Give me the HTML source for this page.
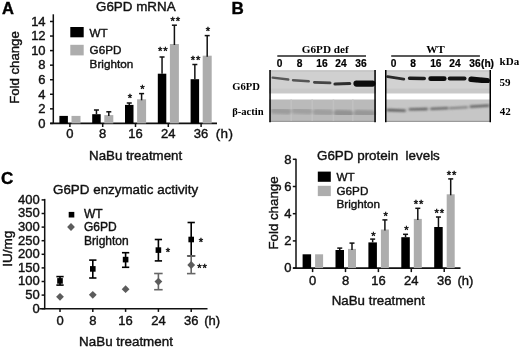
<!DOCTYPE html>
<html><head><meta charset="utf-8"><style>
html,body{margin:0;padding:0;background:#fff;}
body{width:520px;height:348px;overflow:hidden;}
svg{display:block;will-change:transform;filter:blur(0.4px);}
</style></head><body>
<svg width="520" height="348" viewBox="0 0 520 348">
<rect width="520" height="348" fill="#fff"/>
<text x="1.9" y="14.0" font-size="16.5" text-anchor="start" font-weight="bold" font-family='"Liberation Sans", sans-serif' fill="#000" stroke="#000" stroke-width="0.4">A</text>
<text x="96.0" y="11.0" font-size="13.4" text-anchor="start" font-weight="normal" font-family='"Liberation Sans", sans-serif' fill="#111" stroke="#111" stroke-width="0.4">G6PD mRNA</text>
<line x1="53.30" y1="14.30" x2="53.30" y2="124.00" stroke="#111" stroke-width="1.5"/>
<line x1="50.00" y1="123.40" x2="53.30" y2="123.40" stroke="#111" stroke-width="1.5"/>
<text x="45.6" y="127.7" font-size="13" text-anchor="end" font-weight="normal" font-family='"Liberation Sans", sans-serif' fill="#111" stroke="#111" stroke-width="0.4">0</text>
<line x1="50.00" y1="108.84" x2="53.30" y2="108.84" stroke="#111" stroke-width="1.5"/>
<text x="45.6" y="113.14" font-size="13" text-anchor="end" font-weight="normal" font-family='"Liberation Sans", sans-serif' fill="#111" stroke="#111" stroke-width="0.4">2</text>
<line x1="50.00" y1="94.28" x2="53.30" y2="94.28" stroke="#111" stroke-width="1.5"/>
<text x="45.6" y="98.58" font-size="13" text-anchor="end" font-weight="normal" font-family='"Liberation Sans", sans-serif' fill="#111" stroke="#111" stroke-width="0.4">4</text>
<line x1="50.00" y1="79.72" x2="53.30" y2="79.72" stroke="#111" stroke-width="1.5"/>
<text x="45.6" y="84.02" font-size="13" text-anchor="end" font-weight="normal" font-family='"Liberation Sans", sans-serif' fill="#111" stroke="#111" stroke-width="0.4">6</text>
<line x1="50.00" y1="65.16" x2="53.30" y2="65.16" stroke="#111" stroke-width="1.5"/>
<text x="45.6" y="69.46" font-size="13" text-anchor="end" font-weight="normal" font-family='"Liberation Sans", sans-serif' fill="#111" stroke="#111" stroke-width="0.4">8</text>
<line x1="50.00" y1="50.60" x2="53.30" y2="50.60" stroke="#111" stroke-width="1.5"/>
<text x="45.6" y="54.900000000000006" font-size="13" text-anchor="end" font-weight="normal" font-family='"Liberation Sans", sans-serif' fill="#111" stroke="#111" stroke-width="0.4">10</text>
<line x1="50.00" y1="36.04" x2="53.30" y2="36.04" stroke="#111" stroke-width="1.5"/>
<text x="45.6" y="40.34" font-size="13" text-anchor="end" font-weight="normal" font-family='"Liberation Sans", sans-serif' fill="#111" stroke="#111" stroke-width="0.4">12</text>
<line x1="50.00" y1="21.48" x2="53.30" y2="21.48" stroke="#111" stroke-width="1.5"/>
<text x="45.6" y="25.780000000000005" font-size="13" text-anchor="end" font-weight="normal" font-family='"Liberation Sans", sans-serif' fill="#111" stroke="#111" stroke-width="0.4">14</text>
<line x1="50.30" y1="123.40" x2="217.00" y2="123.40" stroke="#111" stroke-width="1.7"/>
<line x1="69.90" y1="123.40" x2="69.90" y2="127.00" stroke="#111" stroke-width="1.5"/>
<text x="69.9" y="138.3" font-size="13" text-anchor="middle" font-weight="normal" font-family='"Liberation Sans", sans-serif' fill="#111" stroke="#111" stroke-width="0.4">0</text>
<line x1="102.70" y1="123.40" x2="102.70" y2="127.00" stroke="#111" stroke-width="1.5"/>
<text x="102.7" y="138.3" font-size="13" text-anchor="middle" font-weight="normal" font-family='"Liberation Sans", sans-serif' fill="#111" stroke="#111" stroke-width="0.4">8</text>
<line x1="135.50" y1="123.40" x2="135.50" y2="127.00" stroke="#111" stroke-width="1.5"/>
<text x="135.5" y="138.3" font-size="13" text-anchor="middle" font-weight="normal" font-family='"Liberation Sans", sans-serif' fill="#111" stroke="#111" stroke-width="0.4">16</text>
<line x1="168.30" y1="123.40" x2="168.30" y2="127.00" stroke="#111" stroke-width="1.5"/>
<text x="168.3" y="138.3" font-size="13" text-anchor="middle" font-weight="normal" font-family='"Liberation Sans", sans-serif' fill="#111" stroke="#111" stroke-width="0.4">24</text>
<line x1="201.10" y1="123.40" x2="201.10" y2="127.00" stroke="#111" stroke-width="1.5"/>
<text x="201.1" y="138.3" font-size="13" text-anchor="middle" font-weight="normal" font-family='"Liberation Sans", sans-serif' fill="#111" stroke="#111" stroke-width="0.4">36</text>
<text x="215.8" y="138.3" font-size="13.5" text-anchor="start" font-weight="normal" font-family='"Liberation Sans", sans-serif' fill="#111" stroke="#111" stroke-width="0.4" letter-spacing="0.3">(h)</text>
<text x="135.6" y="160.0" font-size="13.3" text-anchor="middle" font-weight="normal" font-family='"Liberation Sans", sans-serif' fill="#111" stroke="#111" stroke-width="0.4">NaBu treatment</text>
<text x="0" y="0" font-size="13.2" text-anchor="middle" font-family='"Liberation Sans", sans-serif' fill="#111" stroke="#111" stroke-width="0.4" transform="translate(19.3,67.5) rotate(-90)">Fold change</text>
<rect x="70.30" y="27.00" width="13.40" height="10.30" fill="#000"/>
<rect x="70.30" y="44.80" width="13.40" height="10.60" fill="#adadad"/>
<text x="89.6" y="36.5" font-size="11.7" text-anchor="start" font-weight="normal" font-family='"Liberation Sans", sans-serif' fill="#111" stroke="#111" stroke-width="0.4">WT</text>
<text x="89.6" y="54.2" font-size="11.7" text-anchor="start" font-weight="normal" font-family='"Liberation Sans", sans-serif' fill="#111" stroke="#111" stroke-width="0.4">G6PD</text>
<text x="89.6" y="68.0" font-size="11.7" text-anchor="start" font-weight="normal" font-family='"Liberation Sans", sans-serif' fill="#111" stroke="#111" stroke-width="0.4">Brighton</text>
<rect x="59.40" y="115.90" width="8.50" height="7.50" fill="#000"/>
<rect x="71.50" y="115.90" width="9.00" height="7.50" fill="#adadad"/>
<rect x="92.20" y="114.20" width="8.50" height="9.20" fill="#000"/>
<line x1="96.45" y1="110.00" x2="96.45" y2="114.20" stroke="#111" stroke-width="1.5"/>
<line x1="93.95" y1="110.00" x2="98.95" y2="110.00" stroke="#111" stroke-width="1.5"/>
<rect x="104.30" y="115.10" width="9.00" height="8.30" fill="#adadad"/>
<line x1="108.80" y1="111.80" x2="108.80" y2="116.10" stroke="#111" stroke-width="1.5"/>
<line x1="106.30" y1="111.80" x2="111.30" y2="111.80" stroke="#111" stroke-width="1.5"/>
<rect x="125.00" y="104.90" width="8.50" height="18.50" fill="#000"/>
<line x1="129.25" y1="103.00" x2="129.25" y2="104.90" stroke="#111" stroke-width="1.5"/>
<line x1="126.75" y1="103.00" x2="131.75" y2="103.00" stroke="#111" stroke-width="1.5"/>
<text x="130.05" y="101.5" font-size="11.2" text-anchor="middle" font-weight="normal" font-family='"Liberation Sans", sans-serif' fill="#111" stroke="#111" stroke-width="0.45" letter-spacing="0">*</text>
<rect x="137.10" y="99.30" width="9.00" height="24.10" fill="#adadad"/>
<line x1="141.60" y1="93.60" x2="141.60" y2="100.30" stroke="#111" stroke-width="1.5"/>
<line x1="139.10" y1="93.60" x2="144.10" y2="93.60" stroke="#111" stroke-width="1.5"/>
<text x="142.4" y="92.8" font-size="11.2" text-anchor="middle" font-weight="normal" font-family='"Liberation Sans", sans-serif' fill="#111" stroke="#111" stroke-width="0.45" letter-spacing="0">*</text>
<rect x="157.80" y="73.70" width="8.50" height="49.70" fill="#000"/>
<line x1="162.05" y1="57.00" x2="162.05" y2="73.70" stroke="#111" stroke-width="1.5"/>
<line x1="159.55" y1="57.00" x2="164.55" y2="57.00" stroke="#111" stroke-width="1.5"/>
<text x="163.3" y="55.4" font-size="11.2" text-anchor="middle" font-weight="normal" font-family='"Liberation Sans", sans-serif' fill="#111" stroke="#111" stroke-width="0.45" letter-spacing="0.9">**</text>
<rect x="169.90" y="44.00" width="9.00" height="79.40" fill="#adadad"/>
<line x1="174.40" y1="25.20" x2="174.40" y2="45.00" stroke="#111" stroke-width="1.5"/>
<line x1="171.90" y1="25.20" x2="176.90" y2="25.20" stroke="#111" stroke-width="1.5"/>
<text x="175.65" y="24.6" font-size="11.2" text-anchor="middle" font-weight="normal" font-family='"Liberation Sans", sans-serif' fill="#111" stroke="#111" stroke-width="0.45" letter-spacing="0.9">**</text>
<rect x="190.60" y="79.20" width="8.50" height="44.20" fill="#000"/>
<line x1="194.85" y1="64.50" x2="194.85" y2="79.20" stroke="#111" stroke-width="1.5"/>
<line x1="192.35" y1="64.50" x2="197.35" y2="64.50" stroke="#111" stroke-width="1.5"/>
<text x="196.1" y="63.6" font-size="11.2" text-anchor="middle" font-weight="normal" font-family='"Liberation Sans", sans-serif' fill="#111" stroke="#111" stroke-width="0.45" letter-spacing="0.9">**</text>
<rect x="202.70" y="55.70" width="9.00" height="67.70" fill="#adadad"/>
<line x1="207.20" y1="35.60" x2="207.20" y2="56.70" stroke="#111" stroke-width="1.5"/>
<line x1="204.70" y1="35.60" x2="209.70" y2="35.60" stroke="#111" stroke-width="1.5"/>
<text x="208.0" y="34.9" font-size="11.2" text-anchor="middle" font-weight="normal" font-family='"Liberation Sans", sans-serif' fill="#111" stroke="#111" stroke-width="0.45" letter-spacing="0">*</text>
<text x="231.6" y="13.5" font-size="17" text-anchor="start" font-weight="bold" font-family='"Liberation Sans", sans-serif' fill="#000" stroke="#000" stroke-width="0.4">B</text>
<text x="325.3" y="53.3" font-size="11.2" text-anchor="middle" font-weight="bold" font-family='"Liberation Serif", serif' fill="#000" >G6PD def</text>
<text x="435.5" y="53.2" font-size="11.2" text-anchor="middle" font-weight="bold" font-family='"Liberation Serif", serif' fill="#000" >WT</text>
<line x1="277.30" y1="55.90" x2="366.00" y2="55.90" stroke="#222" stroke-width="1.5"/>
<line x1="391.20" y1="55.90" x2="479.90" y2="55.90" stroke="#222" stroke-width="1.5"/>
<text x="0" y="0" transform="translate(279.5,67.1) scale(1.0,1.12)" font-size="10.2" text-anchor="middle" font-weight="bold" font-family='"Liberation Sans", sans-serif' fill="#000" stroke="#000" stroke-width="0.2">0</text>
<text x="0" y="0" transform="translate(299.5,67.1) scale(1.0,1.12)" font-size="10.2" text-anchor="middle" font-weight="bold" font-family='"Liberation Sans", sans-serif' fill="#000" stroke="#000" stroke-width="0.2">8</text>
<text x="0" y="0" transform="translate(321.9,67.1) scale(1.0,1.12)" font-size="10.2" text-anchor="middle" font-weight="bold" font-family='"Liberation Sans", sans-serif' fill="#000" stroke="#000" stroke-width="0.2">16</text>
<text x="0" y="0" transform="translate(340.9,67.1) scale(1.0,1.12)" font-size="10.2" text-anchor="middle" font-weight="bold" font-family='"Liberation Sans", sans-serif' fill="#000" stroke="#000" stroke-width="0.2">24</text>
<text x="0" y="0" transform="translate(360.9,67.1) scale(1.0,1.12)" font-size="10.2" text-anchor="middle" font-weight="bold" font-family='"Liberation Sans", sans-serif' fill="#000" stroke="#000" stroke-width="0.2">36</text>
<text x="0" y="0" transform="translate(393.5,67.1) scale(1.0,1.12)" font-size="10.2" text-anchor="middle" font-weight="bold" font-family='"Liberation Sans", sans-serif' fill="#000" stroke="#000" stroke-width="0.2">0</text>
<text x="0" y="0" transform="translate(413.2,67.1) scale(1.0,1.12)" font-size="10.2" text-anchor="middle" font-weight="bold" font-family='"Liberation Sans", sans-serif' fill="#000" stroke="#000" stroke-width="0.2">8</text>
<text x="0" y="0" transform="translate(435.8,67.1) scale(1.0,1.12)" font-size="10.2" text-anchor="middle" font-weight="bold" font-family='"Liberation Sans", sans-serif' fill="#000" stroke="#000" stroke-width="0.2">16</text>
<text x="0" y="0" transform="translate(454.9,67.1) scale(1.0,1.12)" font-size="10.2" text-anchor="middle" font-weight="bold" font-family='"Liberation Sans", sans-serif' fill="#000" stroke="#000" stroke-width="0.2">24</text>
<text x="0" y="0" transform="translate(475.0,67.1) scale(1.0,1.12)" font-size="10.2" text-anchor="middle" font-weight="bold" font-family='"Liberation Sans", sans-serif' fill="#000" stroke="#000" stroke-width="0.2">36</text>
<text x="0" y="0" transform="translate(481.0,67.1) scale(1.0,1.12)" font-size="10.2" text-anchor="start" font-weight="bold" font-family='"Liberation Sans", sans-serif' fill="#000" stroke="#000" stroke-width="0.2">(h)</text>
<text x="499.6" y="64.6" font-size="11" text-anchor="start" font-weight="bold" font-family='"Liberation Serif", serif' fill="#000" >kDa</text>
<text x="499.6" y="86.4" font-size="11" text-anchor="start" font-weight="bold" font-family='"Liberation Serif", serif' fill="#000" >59</text>
<text x="499.8" y="114.8" font-size="11" text-anchor="start" font-weight="bold" font-family='"Liberation Serif", serif' fill="#000" >42</text>
<text x="232.2" y="89.6" font-size="10.6" text-anchor="start" font-weight="bold" font-family='"Liberation Serif", serif' fill="#000" >G6PD</text>
<text x="232.2" y="115.0" font-size="10.6" text-anchor="start" font-weight="bold" font-family='"Liberation Serif", serif' fill="#000" >&#946;-actin</text>
<defs><filter id="bl" x="-20%" y="-50%" width="140%" height="200%"><feGaussianBlur stdDeviation="0.6"/></filter><filter id="bl2" x="-20%" y="-50%" width="140%" height="200%"><feGaussianBlur stdDeviation="1.0"/></filter></defs>
<rect x="269.30" y="70.30" width="106.50" height="23.00" fill="#d0d0d0"/>
<rect x="269.30" y="70.30" width="106.50" height="1.40" fill="#c4c4c4"/>
<rect x="269.30" y="88.50" width="106.50" height="4.80" fill="#c9c9c9"/>
<rect x="269.30" y="99.50" width="106.50" height="22.50" fill="#bababa"/>
<rect x="269.30" y="120.80" width="106.50" height="1.20" fill="#9a9a9a"/>
<rect x="290.40" y="99.50" width="1.60" height="21.30" fill="#c1c1c1"/>
<rect x="311.40" y="99.50" width="1.60" height="21.30" fill="#c1c1c1"/>
<rect x="332.60" y="99.50" width="1.60" height="21.30" fill="#c1c1c1"/>
<rect x="352.00" y="99.50" width="1.60" height="21.30" fill="#c1c1c1"/>
<g filter="url(#bl)">
<line x1="272.65" y1="77.70" x2="288.35" y2="79.50" stroke="#585858" stroke-width="2.3" stroke-linecap="round"/>
<line x1="293.05" y1="80.20" x2="308.75" y2="81.30" stroke="#555555" stroke-width="2.5" stroke-linecap="round"/>
<line x1="314.40" y1="82.30" x2="330.10" y2="82.90" stroke="#444444" stroke-width="2.8" stroke-linecap="round"/>
<line x1="335.00" y1="84.00" x2="349.70" y2="83.50" stroke="#2e2e2e" stroke-width="3.2" stroke-linecap="round"/>
<line x1="356.50" y1="83.60" x2="372.40" y2="83.60" stroke="#0e0e0e" stroke-width="6.2" stroke-linecap="round"/>
</g><g filter="url(#bl2)">
<line x1="274.00" y1="110.80" x2="288.00" y2="111.40" stroke="#9c9c9c" stroke-width="6" stroke-linecap="round"/>
<line x1="295.00" y1="110.80" x2="309.00" y2="111.40" stroke="#a0a0a0" stroke-width="6" stroke-linecap="round"/>
<line x1="316.00" y1="112.00" x2="330.00" y2="112.50" stroke="#9f9f9f" stroke-width="6" stroke-linecap="round"/>
<line x1="337.25" y1="113.00" x2="349.75" y2="113.50" stroke="#939393" stroke-width="6.5" stroke-linecap="round"/>
<line x1="357.25" y1="113.00" x2="371.75" y2="113.50" stroke="#989898" stroke-width="6.5" stroke-linecap="round"/>
</g>
<line x1="270.05" y1="70.00" x2="270.05" y2="122.20" stroke="#000" stroke-width="1.5"/>
<line x1="375.05" y1="70.00" x2="375.05" y2="122.20" stroke="#000" stroke-width="1.5"/>
<rect x="385.00" y="70.30" width="106.00" height="23.00" fill="#d2d2d2"/>
<rect x="385.00" y="70.30" width="106.00" height="1.40" fill="#c4c4c4"/>
<rect x="385.00" y="88.50" width="106.00" height="4.80" fill="#c9c9c9"/>
<rect x="385.00" y="99.50" width="106.00" height="22.50" fill="#c6c6c6"/>
<rect x="385.00" y="120.80" width="106.00" height="1.20" fill="#9a9a9a"/>
<g filter="url(#bl)">
<line x1="387.60" y1="76.70" x2="403.80" y2="79.10" stroke="#2a2a2a" stroke-width="2.8" stroke-linecap="round"/>
<line x1="409.60" y1="78.30" x2="424.20" y2="78.50" stroke="#1a1a1a" stroke-width="3.6" stroke-linecap="round"/>
<line x1="430.70" y1="78.70" x2="444.20" y2="78.70" stroke="#0c0c0c" stroke-width="4.8" stroke-linecap="round"/>
<line x1="449.70" y1="78.50" x2="464.50" y2="78.50" stroke="#141414" stroke-width="4.0" stroke-linecap="round"/>
<line x1="471.10" y1="79.20" x2="487.20" y2="80.80" stroke="#0c0c0c" stroke-width="5.6" stroke-linecap="round"/>
</g><g filter="url(#bl2)">
<line x1="387.70" y1="110.00" x2="404.80" y2="110.60" stroke="#555555" stroke-width="2.4" stroke-linecap="round"/>
<line x1="409.65" y1="109.40" x2="426.85" y2="109.00" stroke="#5e5e5e" stroke-width="2.3" stroke-linecap="round"/>
<line x1="431.15" y1="108.80" x2="447.35" y2="108.20" stroke="#626262" stroke-width="2.3" stroke-linecap="round"/>
<line x1="450.05" y1="108.30" x2="466.95" y2="107.30" stroke="#7a7a7a" stroke-width="2.1" stroke-linecap="round"/>
<line x1="470.70" y1="106.60" x2="488.30" y2="105.60" stroke="#5c5c5c" stroke-width="2.4" stroke-linecap="round"/>
</g>
<line x1="385.75" y1="70.00" x2="385.75" y2="122.20" stroke="#000" stroke-width="1.5"/>
<line x1="490.25" y1="70.00" x2="490.25" y2="122.20" stroke="#000" stroke-width="1.5"/>
<text x="317.0" y="160.0" font-size="13.4" text-anchor="start" font-weight="normal" font-family='"Liberation Sans", sans-serif' fill="#111" stroke="#111" stroke-width="0.4">G6PD protein&#160; levels</text>
<line x1="296.00" y1="158.70" x2="296.00" y2="268.70" stroke="#111" stroke-width="1.5"/>
<line x1="292.80" y1="268.10" x2="296.00" y2="268.10" stroke="#111" stroke-width="1.5"/>
<text x="291.6" y="272.3" font-size="13" text-anchor="end" font-weight="normal" font-family='"Liberation Sans", sans-serif' fill="#111" stroke="#111" stroke-width="0.4">0</text>
<line x1="292.80" y1="240.90" x2="296.00" y2="240.90" stroke="#111" stroke-width="1.5"/>
<text x="291.6" y="245.10000000000002" font-size="13" text-anchor="end" font-weight="normal" font-family='"Liberation Sans", sans-serif' fill="#111" stroke="#111" stroke-width="0.4">2</text>
<line x1="292.80" y1="213.70" x2="296.00" y2="213.70" stroke="#111" stroke-width="1.5"/>
<text x="291.6" y="217.9" font-size="13" text-anchor="end" font-weight="normal" font-family='"Liberation Sans", sans-serif' fill="#111" stroke="#111" stroke-width="0.4">4</text>
<line x1="292.80" y1="186.50" x2="296.00" y2="186.50" stroke="#111" stroke-width="1.5"/>
<text x="291.6" y="190.70000000000002" font-size="13" text-anchor="end" font-weight="normal" font-family='"Liberation Sans", sans-serif' fill="#111" stroke="#111" stroke-width="0.4">6</text>
<line x1="292.80" y1="159.30" x2="296.00" y2="159.30" stroke="#111" stroke-width="1.5"/>
<text x="291.6" y="163.5" font-size="13" text-anchor="end" font-weight="normal" font-family='"Liberation Sans", sans-serif' fill="#111" stroke="#111" stroke-width="0.4">8</text>
<line x1="293.10" y1="268.10" x2="460.50" y2="268.10" stroke="#111" stroke-width="1.7"/>
<line x1="312.60" y1="268.10" x2="312.60" y2="272.10" stroke="#111" stroke-width="1.5"/>
<text x="312.6" y="285.3" font-size="13" text-anchor="middle" font-weight="normal" font-family='"Liberation Sans", sans-serif' fill="#111" stroke="#111" stroke-width="0.4">0</text>
<line x1="345.50" y1="268.10" x2="345.50" y2="272.10" stroke="#111" stroke-width="1.5"/>
<text x="345.5" y="285.3" font-size="13" text-anchor="middle" font-weight="normal" font-family='"Liberation Sans", sans-serif' fill="#111" stroke="#111" stroke-width="0.4">8</text>
<line x1="378.40" y1="268.10" x2="378.40" y2="272.10" stroke="#111" stroke-width="1.5"/>
<text x="378.40000000000003" y="285.3" font-size="13" text-anchor="middle" font-weight="normal" font-family='"Liberation Sans", sans-serif' fill="#111" stroke="#111" stroke-width="0.4">16</text>
<line x1="411.30" y1="268.10" x2="411.30" y2="272.10" stroke="#111" stroke-width="1.5"/>
<text x="411.3" y="285.3" font-size="13" text-anchor="middle" font-weight="normal" font-family='"Liberation Sans", sans-serif' fill="#111" stroke="#111" stroke-width="0.4">24</text>
<line x1="444.20" y1="268.10" x2="444.20" y2="272.10" stroke="#111" stroke-width="1.5"/>
<text x="444.20000000000005" y="285.3" font-size="13" text-anchor="middle" font-weight="normal" font-family='"Liberation Sans", sans-serif' fill="#111" stroke="#111" stroke-width="0.4">36</text>
<text x="457.4" y="285.3" font-size="13" text-anchor="start" font-weight="normal" font-family='"Liberation Sans", sans-serif' fill="#111" stroke="#111" stroke-width="0.4">(h)</text>
<text x="378.3" y="304.8" font-size="13.3" text-anchor="middle" font-weight="normal" font-family='"Liberation Sans", sans-serif' fill="#111" stroke="#111" stroke-width="0.4">NaBu treatment</text>
<text x="0" y="0" font-size="13.3" text-anchor="middle" font-family='"Liberation Sans", sans-serif' fill="#111" stroke="#111" stroke-width="0.4" transform="translate(278.2,213) rotate(-90)">Fold change</text>
<rect x="317.80" y="171.60" width="13.00" height="10.20" fill="#000"/>
<rect x="317.80" y="185.80" width="13.00" height="10.30" fill="#adadad"/>
<text x="336.5" y="180.7" font-size="11.7" text-anchor="start" font-weight="normal" font-family='"Liberation Sans", sans-serif' fill="#111" stroke="#111" stroke-width="0.4">WT</text>
<text x="336.5" y="194.9" font-size="11.7" text-anchor="start" font-weight="normal" font-family='"Liberation Sans", sans-serif' fill="#111" stroke="#111" stroke-width="0.4">G6PD</text>
<text x="336.5" y="208.0" font-size="11.7" text-anchor="start" font-weight="normal" font-family='"Liberation Sans", sans-serif' fill="#111" stroke="#111" stroke-width="0.4">Brighton</text>
<rect x="302.60" y="254.30" width="8.50" height="13.80" fill="#000"/>
<rect x="315.10" y="254.30" width="8.00" height="13.80" fill="#adadad"/>
<rect x="335.50" y="250.00" width="8.50" height="18.10" fill="#000"/>
<line x1="339.75" y1="248.10" x2="339.75" y2="250.00" stroke="#111" stroke-width="1.5"/>
<line x1="337.25" y1="248.10" x2="342.25" y2="248.10" stroke="#111" stroke-width="1.5"/>
<rect x="348.00" y="248.90" width="8.00" height="19.20" fill="#adadad"/>
<line x1="352.00" y1="243.10" x2="352.00" y2="249.90" stroke="#111" stroke-width="1.5"/>
<line x1="349.50" y1="243.10" x2="354.50" y2="243.10" stroke="#111" stroke-width="1.5"/>
<rect x="368.40" y="242.40" width="8.50" height="25.70" fill="#000"/>
<line x1="372.65" y1="239.10" x2="372.65" y2="242.40" stroke="#111" stroke-width="1.5"/>
<line x1="370.15" y1="239.10" x2="375.15" y2="239.10" stroke="#111" stroke-width="1.5"/>
<text x="373.45000000000005" y="240.4" font-size="11.2" text-anchor="middle" font-weight="normal" font-family='"Liberation Sans", sans-serif' fill="#111" stroke="#111" stroke-width="0.45" letter-spacing="0">*</text>
<rect x="380.90" y="229.50" width="8.00" height="38.60" fill="#adadad"/>
<line x1="384.90" y1="219.90" x2="384.90" y2="230.50" stroke="#111" stroke-width="1.5"/>
<line x1="382.40" y1="219.90" x2="387.40" y2="219.90" stroke="#111" stroke-width="1.5"/>
<text x="385.70000000000005" y="219.79999999999998" font-size="11.2" text-anchor="middle" font-weight="normal" font-family='"Liberation Sans", sans-serif' fill="#111" stroke="#111" stroke-width="0.45" letter-spacing="0">*</text>
<rect x="401.30" y="237.20" width="8.50" height="30.90" fill="#000"/>
<line x1="405.55" y1="234.30" x2="405.55" y2="237.20" stroke="#111" stroke-width="1.5"/>
<line x1="403.05" y1="234.30" x2="408.05" y2="234.30" stroke="#111" stroke-width="1.5"/>
<text x="406.35" y="233.6" font-size="11.2" text-anchor="middle" font-weight="normal" font-family='"Liberation Sans", sans-serif' fill="#111" stroke="#111" stroke-width="0.45" letter-spacing="0">*</text>
<rect x="413.80" y="218.90" width="8.00" height="49.20" fill="#adadad"/>
<line x1="417.80" y1="208.30" x2="417.80" y2="219.90" stroke="#111" stroke-width="1.5"/>
<line x1="415.30" y1="208.30" x2="420.30" y2="208.30" stroke="#111" stroke-width="1.5"/>
<text x="419.05" y="208.2" font-size="11.2" text-anchor="middle" font-weight="normal" font-family='"Liberation Sans", sans-serif' fill="#111" stroke="#111" stroke-width="0.45" letter-spacing="0.9">**</text>
<rect x="434.20" y="227.00" width="8.50" height="41.10" fill="#000"/>
<line x1="438.45" y1="217.00" x2="438.45" y2="227.00" stroke="#111" stroke-width="1.5"/>
<line x1="435.95" y1="217.00" x2="440.95" y2="217.00" stroke="#111" stroke-width="1.5"/>
<text x="439.70000000000005" y="217.29999999999998" font-size="11.2" text-anchor="middle" font-weight="normal" font-family='"Liberation Sans", sans-serif' fill="#111" stroke="#111" stroke-width="0.45" letter-spacing="0.9">**</text>
<rect x="446.70" y="194.30" width="8.00" height="73.80" fill="#adadad"/>
<line x1="450.70" y1="178.90" x2="450.70" y2="195.30" stroke="#111" stroke-width="1.5"/>
<line x1="448.20" y1="178.90" x2="453.20" y2="178.90" stroke="#111" stroke-width="1.5"/>
<text x="451.95000000000005" y="179.2" font-size="11.2" text-anchor="middle" font-weight="normal" font-family='"Liberation Sans", sans-serif' fill="#111" stroke="#111" stroke-width="0.45" letter-spacing="0.9">**</text>
<text x="1.0" y="183.8" font-size="17" text-anchor="start" font-weight="bold" font-family='"Liberation Sans", sans-serif' fill="#000" stroke="#000" stroke-width="0.4">C</text>
<text x="53.0" y="194.2" font-size="13.4" text-anchor="start" font-weight="normal" font-family='"Liberation Sans", sans-serif' fill="#111" stroke="#111" stroke-width="0.4">G6PD enzymatic activity</text>
<line x1="44.70" y1="198.90" x2="44.70" y2="309.30" stroke="#111" stroke-width="1.5"/>
<line x1="41.60" y1="308.70" x2="44.70" y2="308.70" stroke="#111" stroke-width="1.5"/>
<text x="39.8" y="312.5" font-size="13" text-anchor="end" font-weight="normal" font-family='"Liberation Sans", sans-serif' fill="#111" stroke="#111" stroke-width="0.4">0</text>
<line x1="41.60" y1="295.10" x2="44.70" y2="295.10" stroke="#111" stroke-width="1.5"/>
<text x="39.8" y="298.9" font-size="13" text-anchor="end" font-weight="normal" font-family='"Liberation Sans", sans-serif' fill="#111" stroke="#111" stroke-width="0.4">50</text>
<line x1="41.60" y1="281.50" x2="44.70" y2="281.50" stroke="#111" stroke-width="1.5"/>
<text x="39.8" y="285.3" font-size="13" text-anchor="end" font-weight="normal" font-family='"Liberation Sans", sans-serif' fill="#111" stroke="#111" stroke-width="0.4">100</text>
<line x1="41.60" y1="267.90" x2="44.70" y2="267.90" stroke="#111" stroke-width="1.5"/>
<text x="39.8" y="271.7" font-size="13" text-anchor="end" font-weight="normal" font-family='"Liberation Sans", sans-serif' fill="#111" stroke="#111" stroke-width="0.4">150</text>
<line x1="41.60" y1="254.30" x2="44.70" y2="254.30" stroke="#111" stroke-width="1.5"/>
<text x="39.8" y="258.09999999999997" font-size="13" text-anchor="end" font-weight="normal" font-family='"Liberation Sans", sans-serif' fill="#111" stroke="#111" stroke-width="0.4">200</text>
<line x1="41.60" y1="240.70" x2="44.70" y2="240.70" stroke="#111" stroke-width="1.5"/>
<text x="39.8" y="244.5" font-size="13" text-anchor="end" font-weight="normal" font-family='"Liberation Sans", sans-serif' fill="#111" stroke="#111" stroke-width="0.4">250</text>
<line x1="41.60" y1="227.10" x2="44.70" y2="227.10" stroke="#111" stroke-width="1.5"/>
<text x="39.8" y="230.89999999999998" font-size="13" text-anchor="end" font-weight="normal" font-family='"Liberation Sans", sans-serif' fill="#111" stroke="#111" stroke-width="0.4">300</text>
<line x1="41.60" y1="213.50" x2="44.70" y2="213.50" stroke="#111" stroke-width="1.5"/>
<text x="39.8" y="217.3" font-size="13" text-anchor="end" font-weight="normal" font-family='"Liberation Sans", sans-serif' fill="#111" stroke="#111" stroke-width="0.4">350</text>
<line x1="41.60" y1="199.90" x2="44.70" y2="199.90" stroke="#111" stroke-width="1.5"/>
<text x="39.8" y="203.7" font-size="13" text-anchor="end" font-weight="normal" font-family='"Liberation Sans", sans-serif' fill="#111" stroke="#111" stroke-width="0.4">400</text>
<line x1="39.50" y1="308.70" x2="207.50" y2="308.70" stroke="#111" stroke-width="1.6"/>
<line x1="60.00" y1="308.70" x2="60.00" y2="311.90" stroke="#111" stroke-width="1.5"/>
<text x="60.0" y="324.6" font-size="13" text-anchor="middle" font-weight="normal" font-family='"Liberation Sans", sans-serif' fill="#111" stroke="#111" stroke-width="0.4">0</text>
<line x1="92.80" y1="308.70" x2="92.80" y2="311.90" stroke="#111" stroke-width="1.5"/>
<text x="92.8" y="324.6" font-size="13" text-anchor="middle" font-weight="normal" font-family='"Liberation Sans", sans-serif' fill="#111" stroke="#111" stroke-width="0.4">8</text>
<line x1="125.60" y1="308.70" x2="125.60" y2="311.90" stroke="#111" stroke-width="1.5"/>
<text x="125.6" y="324.6" font-size="13" text-anchor="middle" font-weight="normal" font-family='"Liberation Sans", sans-serif' fill="#111" stroke="#111" stroke-width="0.4">16</text>
<line x1="158.40" y1="308.70" x2="158.40" y2="311.90" stroke="#111" stroke-width="1.5"/>
<text x="158.39999999999998" y="324.6" font-size="13" text-anchor="middle" font-weight="normal" font-family='"Liberation Sans", sans-serif' fill="#111" stroke="#111" stroke-width="0.4">24</text>
<line x1="191.20" y1="308.70" x2="191.20" y2="311.90" stroke="#111" stroke-width="1.5"/>
<text x="191.2" y="324.6" font-size="13" text-anchor="middle" font-weight="normal" font-family='"Liberation Sans", sans-serif' fill="#111" stroke="#111" stroke-width="0.4">36</text>
<text x="204.2" y="324.6" font-size="13" text-anchor="start" font-weight="normal" font-family='"Liberation Sans", sans-serif' fill="#111" stroke="#111" stroke-width="0.4">(h)</text>
<text x="126.0" y="346.2" font-size="13.4" text-anchor="middle" font-weight="normal" font-family='"Liberation Sans", sans-serif' fill="#111" stroke="#111" stroke-width="0.4">NaBu treatment</text>
<text x="0" y="0" font-size="13.6" text-anchor="middle" font-family='"Liberation Sans", sans-serif' fill="#111" stroke="#111" stroke-width="0.4" transform="translate(11.6,248.7) rotate(-90)">IU/mg</text>
<rect x="68.70" y="211.90" width="5.60" height="5.60" fill="#000"/>
<path d="M71.0,223.1 L74.9,227.0 L71.0,230.9 L67.1,227.0 Z" fill="#5c5c5c"/>
<text x="84.0" y="217.9" font-size="12" text-anchor="start" font-weight="normal" font-family='"Liberation Sans", sans-serif' fill="#111" stroke="#111" stroke-width="0.4">WT</text>
<text x="84.0" y="231.4" font-size="12" text-anchor="start" font-weight="normal" font-family='"Liberation Sans", sans-serif' fill="#111" stroke="#111" stroke-width="0.4">G6PD</text>
<text x="84.0" y="244.6" font-size="12" text-anchor="start" font-weight="normal" font-family='"Liberation Sans", sans-serif' fill="#111" stroke="#111" stroke-width="0.4">Brighton</text>
<line x1="60.00" y1="276.60" x2="60.00" y2="285.10" stroke="#000" stroke-width="1.6"/>
<line x1="56.35" y1="276.60" x2="63.65" y2="276.60" stroke="#000" stroke-width="1.6"/>
<line x1="56.35" y1="285.10" x2="63.65" y2="285.10" stroke="#000" stroke-width="1.6"/>
<rect x="57.20" y="278.10" width="5.60" height="5.60" fill="#000"/>
<line x1="92.80" y1="260.10" x2="92.80" y2="278.00" stroke="#000" stroke-width="1.6"/>
<line x1="89.15" y1="260.10" x2="96.45" y2="260.10" stroke="#000" stroke-width="1.6"/>
<line x1="89.15" y1="278.00" x2="96.45" y2="278.00" stroke="#000" stroke-width="1.6"/>
<rect x="90.00" y="266.10" width="5.60" height="5.60" fill="#000"/>
<line x1="125.60" y1="252.70" x2="125.60" y2="267.30" stroke="#000" stroke-width="1.6"/>
<line x1="121.95" y1="252.70" x2="129.25" y2="252.70" stroke="#000" stroke-width="1.6"/>
<line x1="121.95" y1="267.30" x2="129.25" y2="267.30" stroke="#000" stroke-width="1.6"/>
<rect x="122.80" y="256.80" width="5.60" height="5.60" fill="#000"/>
<line x1="158.40" y1="239.50" x2="158.40" y2="260.90" stroke="#000" stroke-width="1.6"/>
<line x1="154.75" y1="239.50" x2="162.05" y2="239.50" stroke="#000" stroke-width="1.6"/>
<line x1="154.75" y1="260.90" x2="162.05" y2="260.90" stroke="#000" stroke-width="1.6"/>
<rect x="155.60" y="247.30" width="5.60" height="5.60" fill="#000"/>
<line x1="191.20" y1="222.50" x2="191.20" y2="255.90" stroke="#000" stroke-width="1.6"/>
<line x1="187.55" y1="222.50" x2="194.85" y2="222.50" stroke="#000" stroke-width="1.6"/>
<line x1="187.55" y1="255.90" x2="194.85" y2="255.90" stroke="#000" stroke-width="1.6"/>
<rect x="188.40" y="236.70" width="5.60" height="5.60" fill="#000"/>
<path d="M60.0,292.90000000000003 L63.9,296.8 L60.0,300.7 L56.1,296.8 Z" fill="#5c5c5c"/>
<path d="M92.8,290.90000000000003 L96.7,294.8 L92.8,298.7 L88.89999999999999,294.8 Z" fill="#5c5c5c"/>
<path d="M125.6,285.3 L129.5,289.2 L125.6,293.09999999999997 L121.69999999999999,289.2 Z" fill="#5c5c5c"/>
<line x1="158.40" y1="273.50" x2="158.40" y2="289.70" stroke="#666" stroke-width="1.6"/>
<line x1="154.15" y1="273.50" x2="162.65" y2="273.50" stroke="#666" stroke-width="1.6"/>
<line x1="154.15" y1="289.70" x2="162.65" y2="289.70" stroke="#666" stroke-width="1.6"/>
<path d="M158.39999999999998,277.70000000000005 L162.29999999999998,281.6 L158.39999999999998,285.5 L154.49999999999997,281.6 Z" fill="#5c5c5c"/>
<line x1="191.20" y1="255.90" x2="191.20" y2="273.60" stroke="#666" stroke-width="1.6"/>
<line x1="186.95" y1="255.90" x2="195.45" y2="255.90" stroke="#666" stroke-width="1.6"/>
<line x1="186.95" y1="273.60" x2="195.45" y2="273.60" stroke="#666" stroke-width="1.6"/>
<path d="M191.2,261.1 L195.1,265.0 L191.2,268.9 L187.29999999999998,265.0 Z" fill="#5c5c5c"/>
<text x="167.9" y="255.7" font-size="11.2" text-anchor="middle" font-weight="normal" font-family='"Liberation Sans", sans-serif' fill="#111" stroke="#111" stroke-width="0.45" letter-spacing="0">*</text>
<text x="201.0" y="245.79999999999998" font-size="11.2" text-anchor="middle" font-weight="normal" font-family='"Liberation Sans", sans-serif' fill="#111" stroke="#111" stroke-width="0.45" letter-spacing="0">*</text>
<text x="202.45" y="271.6" font-size="11.2" text-anchor="middle" font-weight="normal" font-family='"Liberation Sans", sans-serif' fill="#111" stroke="#111" stroke-width="0.45" letter-spacing="0.9">**</text>
</svg>
</body></html>
